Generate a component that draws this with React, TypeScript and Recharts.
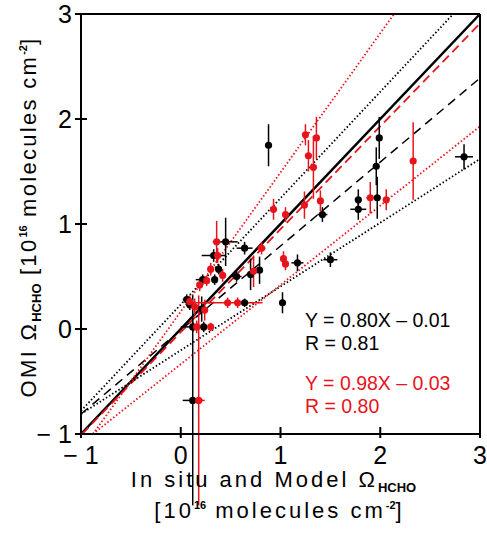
import React from "react";
import {
  ComposedChart,
  Scatter,
  ErrorBar,
  XAxis,
  YAxis,
  ReferenceLine,
  Label,
} from "recharts";

// [x, y, xErr, yErr]
const blackPoints: number[][] = [
  [0.88, 1.75, 0.02, 0.2],
  [1.99, 1.82, 0.02, 0.2],
  [1.96, 1.55, 0.02, 0.18],
  [1.97, 1.25, 0.02, 0.2],
  [2.84, 1.64, 0.09, 0.12],
  [1.78, 1.23, 0.03, 0.1],
  [1.78, 1.14, 0.08, 0.1],
  [1.42, 1.09, 0.05, 0.07],
  [1.5, 0.66, 0.07, 0.07],
  [1.17, 0.63, 0.06, 0.08],
  [1.02, 0.25, 0.03, 0.1],
  [0.64, 0.77, 0.08, 0.06],
  [0.79, 0.56, 0.03, 0.13],
  [0.7, 0.52, 0.03, 0.15],
  [0.56, 0.5, 0.05, 0.05],
  [0.64, 0.25, 0.04, 0.04],
  [0.45, 0.83, 0.12, 0.23],
  [0.33, 0.7, 0.12, 0.06],
  [0.38, 0.57, 0.03, 0.05],
  [0.34, 0.47, 0.03, 0.05],
  [0.22, 0.47, 0.07, 0.05],
  [0.06, 0.28, 0.04, 0.05],
  [0.09, 0.23, 0.03, 0.05],
  [0.21, 0.19, 0.04, 0.12],
  [0.12, 0.02, 0.12, 0.05],
  [0.23, 0.02, 0.04, 0.05],
  [0.12, -0.68, 0.1, 1.0],
];

const redPoints: number[][] = [
  [1.25, 1.85, 0.02, 0.1],
  [1.36, 1.82, 0.02, 0.2],
  [1.28, 1.65, 0.02, 0.15],
  [1.33, 1.54, 0.03, 0.3],
  [2.33, 1.6, 0.02, 0.37],
  [0.93, 1.14, 0.03, 0.1],
  [1.05, 1.09, 0.03, 0.07],
  [1.24, 1.18, 0.02, 0.13],
  [1.4, 1.22, 0.02, 0.1],
  [1.9, 1.25, 0.04, 0.15],
  [2.06, 1.23, 0.03, 0.1],
  [0.81, 0.77, 0.04, 0.06],
  [1.03, 0.67, 0.02, 0.07],
  [1.05, 0.62, 0.02, 0.06],
  [0.73, 0.55, 0.02, 0.15],
  [0.36, 0.83, 0.04, 0.2],
  [0.37, 0.7, 0.03, 0.07],
  [0.3, 0.57, 0.03, 0.06],
  [0.42, 0.51, 0.03, 0.06],
  [0.47, 0.25, 0.35, 0.05],
  [0.57, 0.25, 0.03, 0.05],
  [0.26, 0.46, 0.03, 0.05],
  [0.19, 0.42, 0.03, 0.06],
  [0.09, 0.26, 0.03, 0.06],
  [0.14, 0.21, 0.03, 0.08],
  [0.24, 0.18, 0.03, 0.1],
  [0.16, 0.02, 0.03, 0.06],
  [0.3, 0.02, 0.03, 0.04],
  [0.18, -0.68, 0.06, 1.0],
];

const ticks = [-1, 0, 1, 2, 3];

// [slope, intercept, colour, dash, width]
const fitLines: [number, number, string, string, number][] = [
  [1.0, 0.0, "#000", "", 2.5],
  [0.8, -0.01, "#000", "9 6", 1.5],
  [0.98, -0.03, "#e8141c", "9 5", 1.8],
  [1.013, 0.233, "#000", "1.5 2.2", 1.8],
  [0.6075, -0.2025, "#000", "1.5 2.2", 1.8],
  [1.325, 0.166, "#e8141c", "1.5 2.2", 1.8],
  [0.755, -0.335, "#e8141c", "1.5 2.2", 1.8],
];

const RED = "#e8141c";
const FONT = "'Liberation Sans', Arial, sans-serif";

const toRows = (pts: number[][]) =>
  pts.map(([x, y, ex, ey]) => ({ x, y, ex, ey }));

// end points of y = m x + b inside the [-1, 3] box
function clipLine(m: number, b: number) {
  const lo = -1;
  const hi = 3;
  const x1 = Math.max(lo, (lo - b) / m);
  const x2 = Math.min(hi, (hi - b) / m);
  return [
    { x: x1, y: m * x1 + b },
    { x: x2, y: m * x2 + b },
  ];
}

const fmt = (v: number) => (v < 0 ? "\u2212 " + Math.abs(v) : String(v));

const BottomTick = (props: any) => {
  const { x, y, payload } = props;
  return (
    <g>
      <line x1={x} x2={x} y1={y - 7} y2={y + 4} stroke="#000" strokeWidth={2} />
      <text x={x} y={y + 30} textAnchor="middle" fontSize={25} fontFamily={FONT} fill="#000">
        {fmt(payload.value)}
      </text>
    </g>
  );
};

const LeftTick = (props: any) => {
  const { x, y, payload } = props;
  return (
    <g>
      <line x1={x - 6} x2={x + 6} y1={y} y2={y} stroke="#000" strokeWidth={2} />
      <text x={x - 9} y={y + 9} textAnchor="end" fontSize={25} fontFamily={FONT} fill="#000">
        {fmt(payload.value)}
      </text>
    </g>
  );
};

const TopTick = (props: any) => {
  const { x, y } = props;
  return <line x1={x} x2={x} y1={y - 5} y2={y + 6} stroke="#000" strokeWidth={2} />;
};

const RightTick = (props: any) => {
  const { x, y } = props;
  return <line x1={x - 6} x2={x + 6} y1={y} y2={y} stroke="#000" strokeWidth={2} />;
};

const XTitle = (props: any) => {
  const { viewBox } = props;
  const cx = viewBox.x + viewBox.width / 2 - 7;
  return (
    <g fontFamily={FONT} fill="#000">
      <text x={cx} y={viewBox.y + 53} textAnchor="middle" fontSize={22} letterSpacing={3}>
        In situ and Model Ω
        <tspan fontSize={13} fontWeight="bold" dy={5} letterSpacing={0}>HCHO</tspan>
      </text>
      <text x={cx + 6} y={viewBox.y + 84} textAnchor="middle" fontSize={22} letterSpacing={3}>
        [10
        <tspan fontSize={11} fontWeight="bold" dy={-9} letterSpacing={0}>16</tspan>
        <tspan dy={9}> molecules cm</tspan>
        <tspan fontSize={11} fontWeight="bold" dy={-9} letterSpacing={0}>-2</tspan>
        <tspan dy={9}>]</tspan>
      </text>
    </g>
  );
};

const YTitle = () => (
  <text
    transform="translate(36, 217) rotate(-90)"
    textAnchor="middle"
    fontSize={22}
    letterSpacing={2.3}
    fontFamily={FONT}
    fill="#000"
  >
    OMI Ω
    <tspan fontSize={13} fontWeight="bold" dy={5} letterSpacing={0}>HCHO</tspan>
    <tspan dy={-5}> [10</tspan>
    <tspan fontSize={11} fontWeight="bold" dy={-9} letterSpacing={0}>16</tspan>
    <tspan dy={9}> molecules cm</tspan>
    <tspan fontSize={11} fontWeight="bold" dy={-9} letterSpacing={0}>-2</tspan>
    <tspan dy={9}>]</tspan>
  </text>
);

export default function App() {
  const black = toRows(blackPoints);
  const red = toRows(redPoints);
  return (
    <div style={{ position: "absolute", left: 0, top: 0, width: 487, height: 551, background: "#fff" }}>
      <ComposedChart
        width={487}
        height={551}
        margin={{ top: 14, right: 7, bottom: 0, left: 0 }}
      >
        <XAxis
          type="number"
          dataKey="x"
          domain={[-1, 3]}
          ticks={ticks}
          allowDataOverflow
          height={117}
          tickSize={0}
          tickMargin={0}
          tick={<BottomTick />}
          axisLine={{ stroke: "#000", strokeWidth: 2 }}
          tickLine={false}
        >
          <Label content={<XTitle />} />
        </XAxis>
        <XAxis
          xAxisId="top"
          orientation="top"
          mirror
          type="number"
          domain={[-1, 3]}
          ticks={ticks}
          tickSize={0}
          tickMargin={0}
          tick={<TopTick />}
          axisLine={{ stroke: "#000", strokeWidth: 2 }}
          tickLine={false}
        />
        <YAxis
          type="number"
          dataKey="y"
          domain={[-1, 3]}
          ticks={ticks}
          allowDataOverflow
          width={81}
          tickSize={0}
          tickMargin={0}
          tick={<LeftTick />}
          axisLine={{ stroke: "#000", strokeWidth: 2 }}
          tickLine={false}
        />
        <YAxis
          yAxisId="right"
          orientation="right"
          mirror
          type="number"
          domain={[-1, 3]}
          ticks={ticks}
          tickSize={0}
          tickMargin={0}
          tick={<RightTick />}
          axisLine={{ stroke: "#000", strokeWidth: 2 }}
          tickLine={false}
        />
        {fitLines.map(([m, b, c, dash, w], i) => (
          <ReferenceLine
            key={i}
            segment={clipLine(m, b)}
            stroke={c}
            strokeDasharray={dash || undefined}
            strokeWidth={w}
            ifOverflow="visible"
          />
        ))}
        <Scatter data={black} fill="#000" isAnimationActive={false} shape={(p: any) => <circle cx={p.cx} cy={p.cy} r={3.6} fill="#000" />}>
          <ErrorBar dataKey="ey" direction="y" width={0} stroke="#000" strokeWidth={1.5} />
          <ErrorBar dataKey="ex" direction="x" width={0} stroke="#000" strokeWidth={1.5} />
        </Scatter>
        <Scatter data={red} fill={RED} isAnimationActive={false} shape={(p: any) => <circle cx={p.cx} cy={p.cy} r={3.6} fill={RED} />}>
          <ErrorBar dataKey="ey" direction="y" width={0} stroke={RED} strokeWidth={1.5} />
          <ErrorBar dataKey="ex" direction="x" width={0} stroke={RED} strokeWidth={1.5} />
        </Scatter>
      </ComposedChart>
      <svg width={487} height={551} style={{ position: "absolute", left: 0, top: 0, pointerEvents: "none" }}>
        <YTitle />
      </svg>
      <div style={{ position: "absolute", left: 305, top: 309, fontFamily: FONT, fontSize: 19.5, lineHeight: "23px", color: "#000" }}>
        <div>Y = 0.80X – 0.01</div>
        <div>R = 0.81</div>
      </div>
      <div style={{ position: "absolute", left: 305, top: 372, fontFamily: FONT, fontSize: 19.5, lineHeight: "23px", color: RED }}>
        <div>Y = 0.98X – 0.03</div>
        <div>R = 0.80</div>
      </div>
    </div>
  );
}
